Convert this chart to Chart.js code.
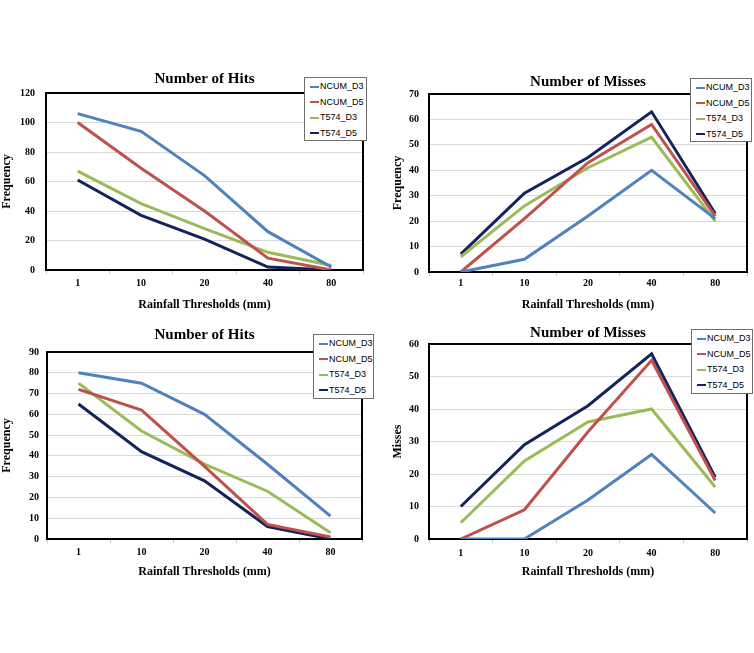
<!DOCTYPE html>
<html>
<head>
<meta charset="utf-8">
<script src="https://cdn.jsdelivr.net/npm/chart.js@4.4.1/dist/chart.umd.min.js"></script>
<style>
  body { margin: 0; background: #fff; width: 754px; height: 653px; position: relative; overflow: hidden; }
  canvas { position: absolute; }
  .legend {
    position: absolute; background: #fff; border: 1px solid #6f6f6f; box-sizing: border-box;
    font-family: 'Liberation Sans', Arial, sans-serif; font-size: 9px; color: #000;
    padding: 1px 0 0 5px;
  }
  .legend div { height: 15.5px; line-height: 15.5px; white-space: nowrap; }
  .legend span { display: inline-block; width: 9px; height: 2px; vertical-align: middle; margin-right: 1px; }
</style>
</head>
<body>
<canvas id="hitsTop" width="377" height="255" style="left:0;top:60px"></canvas>
<canvas id="missesTop" width="377" height="255" style="left:377px;top:60px"></canvas>
<canvas id="hitsBottom" width="377" height="265" style="left:0;top:315px"></canvas>
<canvas id="missesBottom" width="377" height="265" style="left:377px;top:315px"></canvas>

<script>
const thresholds = ['1', '10', '20', '40', '80'];
const seriesNames = ['NCUM_D3', 'NCUM_D5', 'T574_D3', 'T574_D5'];
const seriesColors = ['#4F81BD', '#C0504D', '#9BBB59', '#14245A'];

// top row
const hitsTopNcumD3 = [106, 94, 64, 26, 2];
const hitsTopNcumD5 = [100, 69, 40, 8, 0];
const hitsTopT574D3 = [67, 45, 28, 12, 3];
const hitsTopT574D5 = [61, 37, 21, 2, 0];

const missesTopNcumD3 = [0, 5, 22, 40, 21];
const missesTopNcumD5 = [0, 21, 43, 58, 22];
const missesTopT574D3 = [6, 26, 41, 53, 20];
const missesTopT574D5 = [7, 31, 45, 63, 23];

// bottom row
const hitsBottomNcumD3 = [80, 75, 60, 36, 11];
const hitsBottomNcumD5 = [72, 62, 35, 7, 1];
const hitsBottomT574D3 = [75, 52, 36, 23, 3];
const hitsBottomT574D5 = [65, 42, 28, 6, 0];

const missesBottomNcumD3 = [0, 0, 12, 26, 8];
const missesBottomNcumD5 = [0, 9, 33, 55, 18];
const missesBottomT574D3 = [5, 24, 36, 40, 16];
const missesBottomT574D5 = [10, 29, 41, 57, 19];

const serif = "'Liberation Serif', 'Times New Roman', serif";

// black box round the plot area, drawn under the lines
const framePlugin = {
  id: 'frame',
  beforeDatasetsDraw(chart) {
    const { ctx, chartArea: a } = chart;
    ctx.save();
    ctx.strokeStyle = '#000';
    ctx.lineWidth = 2;
    ctx.strokeRect(a.left, a.top, a.right - a.left, a.bottom - a.top);
    ctx.restore();
  },
};

function makePanel(id, title, yTitle, yMax, yStep, series, lay) {
  const ctx = document.getElementById(id).getContext('2d');
  const datasets = series.map((values, i) => ({
    label: seriesNames[i],
    data: values,
    borderColor: seriesColors[i],
    backgroundColor: seriesColors[i],
    borderWidth: 3,
    pointRadius: 0,
    tension: 0,
  }));

  new Chart(ctx, {
    type: 'line',
    data: { labels: thresholds, datasets },
    plugins: [framePlugin],
    options: {
      responsive: false,
      animation: false,
      layout: { padding: { left: 0, right: lay.padRight, top: 0, bottom: 0 } },
      plugins: {
        legend: { display: false },
        tooltip: { enabled: false },
        title: {
          display: true,
          text: title,
          fullSize: false,
          color: '#000',
          font: { family: serif, size: 15, weight: 'bold', lineHeight: 1.2 },
          padding: { top: lay.titleTop, bottom: lay.titleBottom },
        },
      },
      scales: {
        x: {
          offset: true,
          afterFit(scale) { scale.height = lay.xH; },
          grid: { display: true, drawOnChartArea: false, drawTicks: true, tickLength: 4, color: '#c8c8c8', offset: true },
          border: { display: false },
          ticks: { color: '#000', padding: lay.xTickPad, font: { family: serif, size: 10, weight: 'bold' } },
          title: {
            display: true,
            text: 'Rainfall Thresholds (mm)',
            color: '#000',
            font: { family: serif, size: 12, weight: 'bold', lineHeight: 1.2 },
            padding: { top: 0, bottom: lay.xTitlePad },
          },
        },
        y: {
          min: 0,
          max: yMax,
          afterFit(scale) { scale.width = lay.yW; },
          grid: { color: '#d9d9d9', lineWidth: 1, drawTicks: false },
          border: { display: false },
          ticks: { stepSize: yStep, color: '#000', padding: lay.yTickPad, font: { family: serif, size: 10, weight: 'bold' } },
          title: {
            display: true,
            text: yTitle,
            color: '#000',
            font: { family: serif, size: 12, weight: 'bold', lineHeight: 1.2 },
            padding: { top: lay.yTitlePad, bottom: 0 },
          },
        },
      },
    },
  });

  // legend box, Excel style
  const box = document.createElement('div');
  box.className = 'legend';
  box.style.left = lay.legend[0] + 'px';
  box.style.top = lay.legend[1] + 'px';
  box.style.width = lay.legend[2] + 'px';
  box.style.height = lay.legend[3] + 'px';
  seriesNames.forEach((name, i) => {
    const row = document.createElement('div');
    row.innerHTML = '<span style="background:' + seriesColors[i] + '"></span>' + name;
    box.appendChild(row);
  });
  document.body.appendChild(box);
}

makePanel('hitsTop', 'Number of Hits', 'Frequency', 120, 20,
  [hitsTopNcumD3, hitsTopNcumD5, hitsTopT574D3, hitsTopT574D5],
  { padRight: 14, yW: 46, xH: 45, titleTop: 10, titleBottom: 5, xTickPad: 3, xTitlePad: 3, yTickPad: 11, yTitlePad: 0, legend: [304, 77, 63, 64] });

makePanel('missesTop', 'Number of Misses', 'Frequency', 70, 10,
  [missesTopNcumD3, missesTopNcumD5, missesTopT574D3, missesTopT574D5],
  { padRight: 7, yW: 52, xH: 43, titleTop: 13, titleBottom: 3, xTickPad: 1, xTitlePad: 3, yTickPad: 10, yTitlePad: 14, legend: [690, 78, 62, 64] });

makePanel('hitsBottom', 'Number of Hits', 'Frequency', 90, 10,
  [hitsBottomNcumD3, hitsBottomNcumD5, hitsBottomT574D3, hitsBottomT574D5],
  { padRight: 15, yW: 47, xH: 41, titleTop: 11, titleBottom: 8, xTickPad: 3, xTitlePad: 1, yTickPad: 8, yTitlePad: 0, legend: [313, 334, 61, 65] });

makePanel('missesBottom', 'Number of Misses', 'Misses', 60, 10,
  [missesBottomNcumD3, missesBottomNcumD5, missesBottomT574D3, missesBottomT574D5],
  { padRight: 7, yW: 52, xH: 41, titleTop: 9, titleBottom: 2, xTickPad: 4, xTitlePad: 1, yTickPad: 10, yTitlePad: 14, legend: [691, 329, 62, 65] });
</script>
</body>
</html>
